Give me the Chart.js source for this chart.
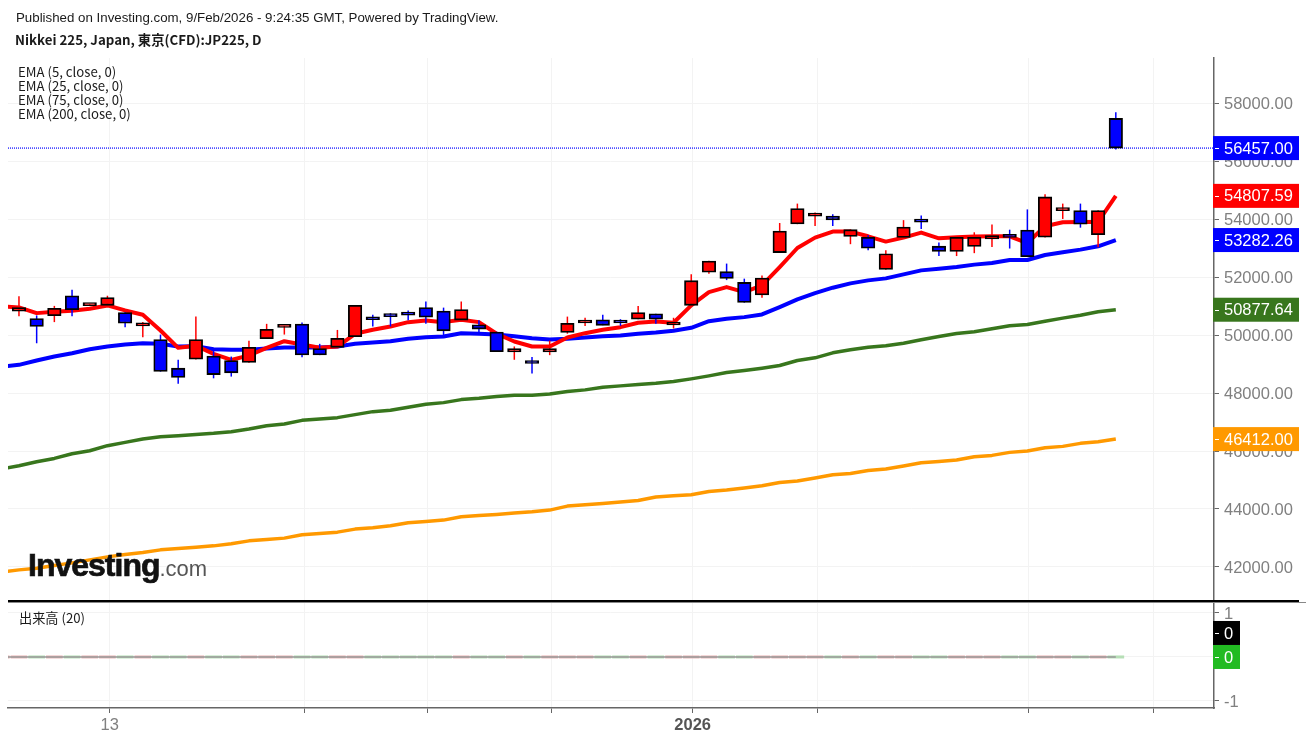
<!DOCTYPE html>
<html>
<head>
<meta charset="utf-8">
<title>Nikkei 225 daily</title>
<script src="https://cdn.jsdelivr.net/npm/chart.js@4/dist/chart.umd.min.js"></script>
<style>
  html, body { margin: 0; padding: 0; background: #fff; }
  body { width: 1306px; height: 741px; position: relative; overflow: hidden; }
  canvas { position: absolute; left: 0; }
  #chart-price { top: 0; }
  #chart-volume { top: 600px; }
  .txt { position: absolute; white-space: nowrap; color: #1a1a1a; }
  .cjk { font-family: "Noto Sans CJK JP", "Noto Sans", sans-serif; }
  .sans { font-family: "Liberation Sans", sans-serif; }
  #sep1 { position: absolute; left: 8px; top: 600px; width: 1291px; height: 2px; background: #000; }
  #sep2 { position: absolute; left: 8px; top: 602px; width: 1298px; height: 1px; background: #888; }
  #logo { position: absolute; left: 28px; top: 547px; white-space: nowrap; font-family: "Liberation Sans", sans-serif; }
  #logo b { font-size: 32px; letter-spacing: -1px; color: #111; -webkit-text-stroke: 0.7px #111; }
  #logo span { font-size: 22px; color: #555; }
</style>
</head>
<body>
<canvas id="chart-price" width="1306" height="601"></canvas>
<canvas id="chart-volume" width="1306" height="141"></canvas>
<div id="sep1"></div>
<div id="sep2"></div>
<div class="txt sans" style="left:16px;top:10px;font-size:13.3px">Published on Investing.com, 9/Feb/2026 - 9:24:35 GMT, Powered by TradingView.</div>
<div class="txt cjk" style="left:15px;top:30px;font-size:13.3px;font-weight:700">Nikkei 225, Japan, 東京(CFD):JP225, D</div>
<div class="txt cjk" style="left:18px;top:65px;font-size:13.2px;line-height:14px">EMA (5, close, 0)<br>EMA (25, close, 0)<br>EMA (75, close, 0)<br>EMA (200, close, 0)</div>
<div class="txt cjk" style="left:19px;top:608px;font-size:13.2px">出来高 (20)</div>
<div id="logo"><b>Investing</b><span>.com</span></div>

<script>
// candles, oldest first
const opens = [50830,50570,50670,51360,51020,51030,50780,50320,49850,48860,49170,49280,49120,49060,49880,50270,
  50380,49540,49580,49950,50570,50670,50720,50950,50830,50520,50360,50110,49420,49060,49420,50090,
  50420,50530,50460,50550,50740,50350,51030,52170,52190,51820,51390,52850,53840,54110,
  54110,53410,53380,52270,53370,53930,53070,52890,53060,53320,53480,53630,53380,54300,54300,53470,57480];
const closes = [50950,50300,50930,50880,51060,51300,50410,50360,48750,48540,49850,48640,48700,49580,50200,50310,
  49320,49320,49890,51030,50530,50640,50690,50620,50150,50880,50210,49430,49540,49020,49540,50410,
  50470,50340,50420,50780,50550,50380,51880,52560,51960,51130,51970,53590,54370,54150,
  53980,53640,53000,52810,53730,53900,52890,53380,53380,53440,53370,52710,54770,54330,53830,54300,56457];
const highs = [51340,50680,51010,51570,51070,51360,50790,50450,50020,49150,50640,49470,49260,49810,50390,50320,
  50440,49700,50180,51040,50700,50760,50850,51160,50950,51160,50510,50120,49610,49250,49810,50640,
  50600,50700,50550,51010,50740,50600,52100,52570,52470,51950,52060,53870,54540,54230,
  54170,53650,53450,52930,53970,54130,53200,53390,53550,53820,53640,54340,54860,54540,54540,54310,57690];
const lows = [50650,49720,50450,50650,51010,51020,50270,49930,48740,48320,49160,48510,48570,49050,49880,50020,
  49240,49310,49580,49950,50300,50300,50510,50390,49980,50510,50090,49430,49150,48680,49310,50050,
  50320,50340,50320,50550,50390,50230,51030,52120,51900,51120,51290,52840,53830,53770,
  53770,53140,52930,52260,53360,53660,52730,52730,52830,53040,52990,52700,53370,54010,53710,53030,56410];

// moving averages, first value sits one bar left of the first candle
const ema5 = [50992,50957,50760,50808,50843,50912,51026,50853,50705,50162,49563,49633,49356,49148,49297,49563,49792,
  49678,49563,49608,50048,50186,50300,50449,50507,50449,50532,50449,50048,49781,49608,49608,49920,
  50068,50186,50276,50428,50473,50428,51026,51486,51659,51486,51718,52351,53008,53367,
  53575,53575,53412,53229,53367,53540,53343,53378,53402,53412,53412,53180,53758,53896,53907,53907,54807.59];
const ema25 = [48917,48975,49124,49263,49377,49515,49608,49678,49722,49702,49608,49619,49515,49494,49494,49539,49574,
  49574,49574,49608,49702,49747,49792,49875,49930,49954,50068,50048,50023,49965,49895,49850,49875,
  49920,49965,49989,50048,50092,50151,50255,50483,50566,50622,50715,50967,51234,51451,
  51638,51787,51891,51960,52098,52236,52295,52351,52434,52489,52593,52593,52765,52859,52952,53066,53282.26];
const ema75 = [45379,45493,45631,45745,45908,46012,46185,46299,46416,46496,46530,46575,46610,46669,46762,46876,46935,
  47059,47108,47153,47257,47360,47405,47509,47613,47671,47775,47820,47879,47924,47924,47972,48052,
  48111,48201,48249,48294,48339,48398,48491,48595,48709,48778,48858,48951,49124,49217,
  49390,49494,49584,49632,49722,49840,49954,50058,50116,50220,50324,50369,50483,50587,50690,50808,50877.64];
const ema200 = [41828,41898,41956,42046,42140,42243,42347,42427,42496,42589,42634,42683,42727,42797,42900,42945,42994,
  43108,43153,43201,43305,43350,43419,43523,43568,43616,43730,43775,43810,43858,43903,43962,44100,
  44145,44190,44239,44294,44412,44456,44491,44605,44654,44723,44802,44916,44965,45069,
  45183,45228,45331,45380,45483,45598,45643,45691,45805,45850,45954,46002,46116,46161,46265,46324,46412];

const lastPrice = 56457;
const priceTicks = [42000,44000,46000,48000,50000,52000,54000,56000,58000];
const volumeTicks = [1,0,-1];
const dateTicks = [5.13,16.15,23.1,30.09,38.08,45.13,57.08,64.12];
const dateLabels = ['13','','','','2026','','',''];
const priceTagValues = [56457,54807.59,53282.26,50877.64,46412];
const priceTagColors = ['#0000ff','#ff0000','#0000ff','#38761d','#ff9900'];

const xMin = -0.62, xMax = 67.55;
const gridColor = '#f3f3f3';
const axisColor = '#666';
const tickFont = { family: '"Liberation Sans", sans-serif', size: 16.5 };

const isUp = closes.map((c, i) => c >= opens[i]);
const candleColors = isUp.map(u => u ? '#ff0000' : '#0000ff');

function emaSeries(values, color, order, width) {
  return {
    type: 'line',
    data: values.map((v, i) => ({ x: i - 1, y: v })),
    borderColor: color,
    borderWidth: width,
    pointRadius: 0,
    tension: 0,
    borderJoinStyle: 'round',
    borderCapStyle: 'butt',
    order
  };
}

// axis labels must not push the plot area in
function noPadding(s) {
  s.paddingTop = 0;
  s.paddingBottom = 0;
  s.paddingLeft = 0;
  s.paddingRight = 0;
}

// value tags on the right of the axis
function drawTag(ctx, y, text, color, width) {
  ctx.save();
  ctx.fillStyle = color;
  ctx.fillRect(1213, y - 12, width, 24);
  ctx.strokeStyle = '#fff';
  ctx.lineWidth = 1;
  ctx.beginPath();
  ctx.moveTo(1215, Math.round(y) + 0.5);
  ctx.lineTo(1219, Math.round(y) + 0.5);
  ctx.stroke();
  ctx.fillStyle = '#fff';
  ctx.font = '16.5px "Liberation Sans", sans-serif';
  ctx.textBaseline = 'middle';
  ctx.fillText(text, 1224, y + 1);
  ctx.restore();
}

const priceTags = {
  id: 'priceTags',
  afterDraw(chart) {
    const y = chart.scales.y;
    priceTagValues.forEach((v, i) => {
      drawTag(chart.ctx, y.getPixelForValue(v), v.toFixed(2), priceTagColors[i], 86);
    });
  }
};

const volumeTags = {
  id: 'volumeTags',
  afterDraw(chart) {
    const y0 = chart.scales.y.getPixelForValue(0);
    drawTag(chart.ctx, y0, '0', '#22bb22', 27);
    drawTag(chart.ctx, y0 - 24, '0', '#000000', 27);
  }
};

function dateScale(showLabels) {
  return {
    type: 'linear',
    offset: false,
    min: xMin,
    max: xMax,
    afterBuildTicks: s => { s.ticks = dateTicks.map(v => ({ value: v })); },
    afterFit: s => { s.height = showLabels ? 33 : 0; noPadding(s); },
    grid: { offset: false, color: gridColor, drawTicks: showLabels, tickLength: 5, tickColor: axisColor },
    border: { display: showLabels, color: axisColor, width: 1.5 },
    ticks: {
      display: showLabels,
      autoSkip: false,
      maxRotation: 0,
      padding: 3,
      callback: (v, i) => dateLabels[i],
      color: c => (c.tick && c.tick.label === '2026') ? '#555' : '#808080',
      font: c => (c.tick && c.tick.label === '2026') ? { ...tickFont, weight: 'bold' } : tickFont
    }
  };
}

const baseOpts = {
  responsive: false,
  animation: false,
  events: [],
  plugins: { legend: { display: false }, tooltip: { enabled: false } }
};

new Chart(document.getElementById('chart-price'), {
  data: {
    datasets: [
      {
        type: 'bar',
        data: opens.map((o, i) => ({ x: i, y: [o, closes[i]] })),
        backgroundColor: candleColors,
        borderColor: '#000',
        borderWidth: 1.8,
        borderSkipped: false,
        barThickness: 13.5,
        minBarLength: 3,
        grouped: false,
        order: 1
      },
      {
        type: 'bar',
        data: lows.map((l, i) => ({ x: i, y: [l, highs[i]] })),
        backgroundColor: candleColors,
        barThickness: 1.5,
        inflateAmount: 0,
        grouped: false,
        order: 2
      },
      emaSeries(ema5, '#ff0000', 3, 4),
      emaSeries(ema25, '#0000ff', 4, 4),
      emaSeries(ema75, '#38761d', 5, 3.5),
      emaSeries(ema200, '#ff9900', 6, 3.5),
      {
        type: 'line',
        data: [{ x: xMin, y: lastPrice }, { x: xMax, y: lastPrice }],
        borderColor: '#0000ff',
        borderWidth: 1.2,
        borderDash: [1, 1],
        pointRadius: 0,
        order: 7
      }
    ]
  },
  options: {
    ...baseOpts,
    layout: { padding: { left: 8, top: 58, right: 0, bottom: 0 } },
    scales: {
      x: dateScale(false),
      y: {
        position: 'right',
        min: 40824,
        max: 59566,
        afterBuildTicks: s => { s.ticks = priceTicks.map(v => ({ value: v })); },
        afterFit: s => { s.width = 92; noPadding(s); },
        grid: { color: gridColor, tickLength: 5, tickColor: axisColor },
        border: { color: axisColor, width: 1.5 },
        ticks: { color: '#808080', font: tickFont, padding: 5, labelOffset: 1.5, callback: v => v.toFixed(2) }
      }
    }
  },
  plugins: [priceTags]
});

// volume pane, the feed has no volume for this CFD; one extra bar left of the first candle
const volumes = ema5.map(() => 0);
const volumeMA = ema5.map(() => 0);
const volumeColors = [true].concat(isUp).map(u => u ? '#e8b4b4' : '#b6dfb6');

new Chart(document.getElementById('chart-volume'), {
  data: {
    datasets: [
      {
        type: 'line',
        data: volumeMA.map((v, i) => ({ x: i - 1, y: v })),
        borderColor: '#999',
        borderWidth: 1.5,
        pointRadius: 0,
        order: 1
      },
      {
        type: 'bar',
        data: volumes.map((v, i) => ({ x: i - 1, y: v })),
        backgroundColor: volumeColors,
        barThickness: 16.7,
        minBarLength: 3,
        inflateAmount: 0,
        grouped: false,
        order: 2
      }
    ]
  },
  options: {
    ...baseOpts,
    layout: { padding: { left: 8, top: 3, right: 0, bottom: 0 } },
    scales: {
      x: dateScale(true),
      y: {
        position: 'right',
        min: -1.16,
        max: 1.227,
        afterBuildTicks: s => { s.ticks = volumeTicks.map(v => ({ value: v })); },
        afterFit: s => { s.width = 92; noPadding(s); },
        grid: { color: gridColor, tickLength: 5, tickColor: axisColor },
        border: { color: axisColor, width: 1.5 },
        ticks: { color: '#808080', font: tickFont, padding: 5, labelOffset: 1.5, callback: v => String(v) }
      }
    }
  },
  plugins: [volumeTags]
});
</script>
</body>
</html>
